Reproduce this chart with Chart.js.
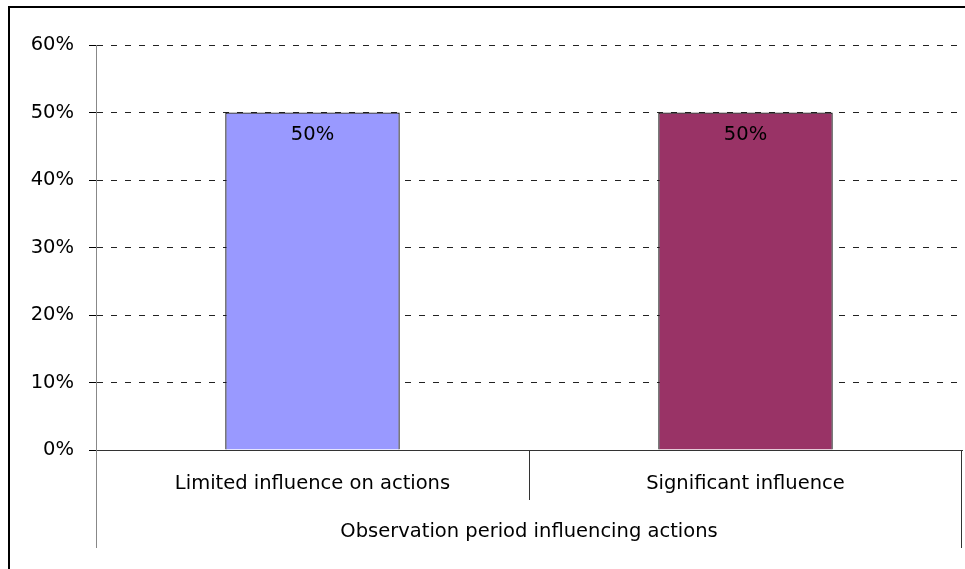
<!DOCTYPE html>
<html>
<head>
<meta charset="utf-8">
<title>Observation period influencing actions</title>
<script src="https://cdn.jsdelivr.net/npm/chart.js@4.4.0/dist/chart.umd.min.js"></script>
<style>
  body { margin: 0; background: #fff; }
  canvas { display: block; }
</style>
</head>
<body>
<canvas id="chart" width="965" height="569"></canvas>
<script>
const categories = ["Limited influence on actions", "Significant influence"];
const shares = [0.5, 0.5];
const barColors = ["#9999FF", "#993366"];
const groupLabel = "Observation period influencing actions";
const yMax = 0.6;
const yStep = 0.1;

const fontFamily = "'DejaVu Sans', sans-serif";
const fontSize = 19.5;

function pct(v) {
  return Math.round(v * 100) + "%";
}

function line(ctx, x1, y1, x2, y2) {
  ctx.beginPath();
  ctx.moveTo(x1, y1);
  ctx.lineTo(x2, y2);
  ctx.stroke();
}

// frame, boxes under the axis, value labels inside bars
const extrasPlugin = {
  id: "extras",
  beforeDraw(chart) {
    const ctx = chart.ctx;
    ctx.save();
    ctx.fillStyle = "#fff";
    ctx.fillRect(0, 0, chart.width, chart.height);
    ctx.restore();
  },
  afterDraw(chart) {
    const ctx = chart.ctx;
    const x = chart.scales.x;
    const area = chart.chartArea;
    const boxBottom = 548;
    ctx.save();

    // outer frame, right/bottom edges fall outside the picture
    ctx.strokeStyle = "#000";
    ctx.lineWidth = 2;
    ctx.strokeRect(9, 7, chart.width + 20, chart.height + 20);

    ctx.lineWidth = 1;
    const left = Math.round(area.left) + 0.5;
    const right = Math.round(area.right) - 0.5;
    const mid = Math.round((x.getPixelForValue(0) + x.getPixelForValue(1)) / 2) + 0.5;
    ctx.strokeStyle = "#888";
    line(ctx, left, area.bottom, left, boxBottom);
    ctx.strokeStyle = "#333";
    line(ctx, mid, area.bottom, mid, 500);
    line(ctx, right, area.bottom, right, boxBottom);

    ctx.fillStyle = "#000";
    ctx.font = fontSize + "px " + fontFamily;
    ctx.textAlign = "center";
    ctx.textBaseline = "middle";
    ctx.fillText(groupLabel, (area.left + area.right) / 2, 532);

    // value labels
    const meta = chart.getDatasetMeta(0);
    meta.data.forEach((bar, i) => {
      ctx.fillText(pct(shares[i]), bar.x, bar.y + 22);
    });
    ctx.restore();
  }
};

new Chart(document.getElementById("chart"), {
  type: "bar",
  data: {
    labels: categories,
    datasets: [{
      data: shares,
      backgroundColor: barColors,
      borderColor: "#111",
      borderWidth: 1.3,
      barPercentage: 0.403,
      categoryPercentage: 1
    }]
  },
  options: {
    responsive: false,
    animation: false,
    layout: { padding: { left: 0, top: 45, right: 3, bottom: 0 } },
    plugins: {
      legend: { display: false },
      tooltip: { enabled: false }
    },
    scales: {
      x: {
        ticks: { color: "#000", font: { family: fontFamily, size: fontSize }, padding: 22 },
        grid: { display: false, drawTicks: false },
        border: { color: "#333" },
        afterFit: (s) => { s.height = 119; }
      },
      y: {
        min: 0,
        max: yMax,
        ticks: {
          stepSize: yStep,
          color: "#000",
          font: { family: fontFamily, size: fontSize },
          padding: 15,
          callback: (v) => pct(v)
        },
        grid: { color: "#222", tickColor: "#000", tickLength: 7, tickBorderDash: [] },
        border: { color: "#888", dash: [6, 8] },
        afterFit: (s) => { s.width = 96; }
      }
    }
  },
  plugins: [extrasPlugin]
});
</script>
</body>
</html>
